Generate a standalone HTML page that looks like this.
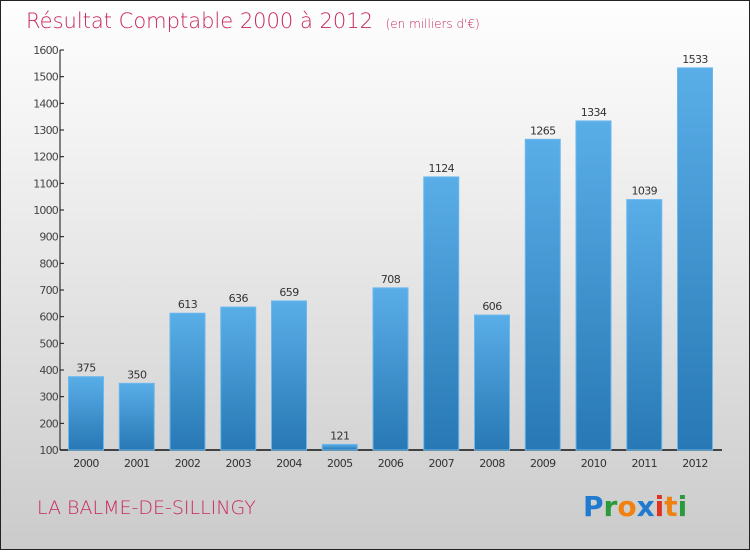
<!DOCTYPE html>
<html><head><meta charset="utf-8"><style>
body{margin:0}
#c{width:748px;height:548px;border:1px solid #222;background:linear-gradient(#fefefe,#f0f0f0 30%,#d8d8d8 75%,#cbcbcb);position:relative;font-family:"DejaVu Sans","Liberation Sans",sans-serif}
svg text{font-family:"DejaVu Sans","Liberation Sans",sans-serif}
</style></head><body>
<div id="c">
<svg width="748" height="548">
<defs><linearGradient id="g" x1="0" y1="0" x2="0" y2="1"><stop offset="0" stop-color="#5aaee8"/><stop offset="1" stop-color="#2778b4"/></linearGradient></defs>
<text x="25" y="27" font-size="21" fill="#c8285a" style="font-weight:200">Résultat Comptable 2000 à 2012 <tspan font-size="12" dx="6">(en milliers d'€)</tspan></text>
<g id="plot"></g>
<text x="36" y="513" font-size="19" fill="#c8285a" style="font-weight:200">LA BALME-DE-SILLINGY</text>
<g font-size="28" font-weight="bold">
<text x="582" y="515"><tspan fill="#1f7ad0">P</tspan><tspan fill="#2a9a3a">r</tspan><tspan fill="#f08010">o</tspan><tspan fill="#1f7ad0">x</tspan><tspan fill="#e03020">i</tspan><tspan fill="#f08010">t</tspan><tspan fill="#2a9a3a">i</tspan></text>
</g>
</svg></div>
<script>
const years=["2000","2001","2002","2003","2004","2005","2006","2007","2008","2009","2010","2011","2012"];
const values=[375,350,613,636,659,121,708,1124,606,1265,1334,1039,1533];
const ticks=[100,200,300,400,500,600,700,800,900,1000,1100,1200,1300,1400,1500,1600];
const NS="http://www.w3.org/2000/svg",g=document.getElementById('plot');
const y=v=>449-(v-100)*400/1500, x=i=>85+i*50.75;
function el(t,a,txt){const e=document.createElementNS(NS,t);for(const k in a)e.setAttribute(k,a[k]);if(txt!=null)e.textContent=txt;g.appendChild(e);return e;}
let ax=el('line',{x1:59,y1:49,x2:59,y2:449,stroke:'#111'});


let bx=el('line',{x1:59,y1:449,x2:721,y2:449,stroke:'#111','stroke-width':1.5});


ticks.forEach(t=>{
 el('line',{x1:59,y1:y(t),x2:63,y2:y(t),stroke:'#111'});
 let l=el('text',{x:57,y:y(t)+4,'font-size':11,fill:'#444','text-anchor':'end','letter-spacing':'-0.8'},t);
 
 
});
values.forEach((v,i)=>{
 let r=el('rect',{x:x(i)-17.5,y:y(v),width:35,height:449-y(v),fill:'url(#g)',stroke:'#6ab8ee','stroke-width':1});
 
 
 let t=el('text',{x:x(i),y:y(v)-5,'font-size':11,fill:'#333','text-anchor':'middle','letter-spacing':'-0.6'},v);
 
 
 let xl=el('text',{x:x(i),y:466,'font-size':11,fill:'#333','text-anchor':'middle','letter-spacing':'-0.6'},years[i]);
 
 
});
</script>
</body></html>
